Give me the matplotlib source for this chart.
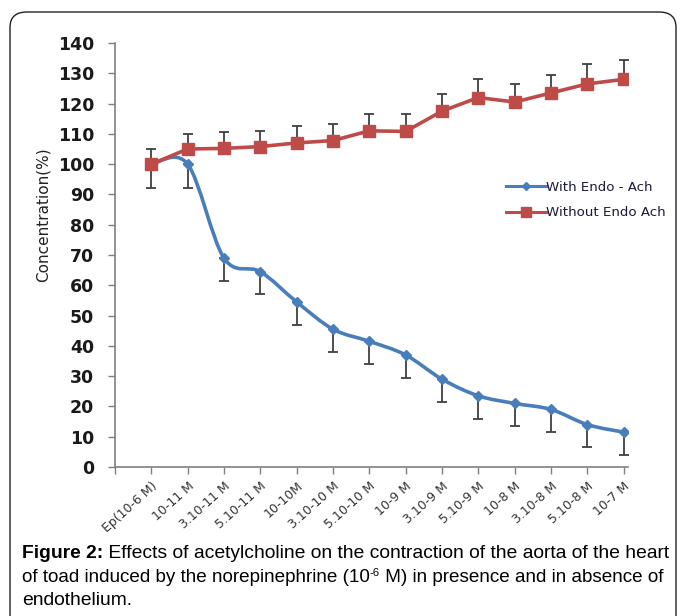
import matplotlib
matplotlib.use("Agg")
import matplotlib.pyplot as plt
from matplotlib.path import Path
from matplotlib.patches import PathPatch, FancyBboxPatch
from matplotlib.lines import Line2D

# data
labels = ["Ep(10-6 M)", "10-11 M", "3.10-11 M", "5.10-11 M", "10-10M", "3.10-10 M",
          "5.10-10 M", "10-9 M", "3.10-9 M", "5.10-9 M", "10-8 M", "3.10-8 M",
          "5.10-8 M", "10-7 M"]
with_endo = [100, 100, 69, 64.5, 54.5, 45.5, 41.5, 37, 29, 23.5, 21, 19, 14, 11.5]
with_endo_err = [8, 8, 7.5, 7.5, 7.5, 7.5, 7.5, 7.5, 7.5, 7.5, 7.5, 7.5, 7.5, 7.5]
without_endo = [100, 105, 105.2, 105.8, 107, 107.8, 111, 110.8, 117.5, 122, 120.5, 123.5, 126.5, 128]
without_endo_err = [5, 5, 5.3, 5.2, 5.5, 5.4, 5.5, 5.7, 5.5, 6, 6, 6, 6.5, 6.5]

blue = "#4a7ebb"
red = "#be4b48"
errc = "#404040"

fig = plt.figure(figsize=(6.81, 6.16), dpi=100)

# rounded frame around the figure panel
frame = FancyBboxPatch((10 / 681, -0.1), 666 / 681, (616 - 12) / 616 + 0.1,
                       boxstyle="round,pad=0,rounding_size=0.025",
                       transform=fig.transFigure, fill=False,
                       edgecolor="#222222", linewidth=1.0)
fig.patches.append(frame)

ax = fig.add_axes([115 / 681, 149 / 616, 513 / 681, 424 / 616])
x = list(range(len(labels)))


def smooth_path(xs, ys):
    # cubic bezier through the points (catmull-rom style, like Excel's smoothed line)
    n = len(xs)
    verts = [(xs[0], ys[0])]
    codes = [Path.MOVETO]
    for i in range(n - 1):
        i0 = max(i - 1, 0)
        i3 = min(i + 2, n - 1)
        c1 = (xs[i] + (xs[i + 1] - xs[i0]) / 6, ys[i] + (ys[i + 1] - ys[i0]) / 6)
        c2 = (xs[i + 1] - (xs[i3] - xs[i]) / 6, ys[i + 1] - (ys[i3] - ys[i]) / 6)
        verts += [c1, c2, (xs[i + 1], ys[i + 1])]
        codes += [Path.CURVE4] * 3
    return Path(verts, codes)


# error bars (one-sided)
ax.errorbar(x, with_endo, yerr=[with_endo_err, [0] * len(x)], fmt="none",
            ecolor=errc, elinewidth=1.3, capsize=3.5, capthick=1.3, zorder=2)
ax.errorbar(x, without_endo, yerr=[[0] * len(x), without_endo_err], fmt="none",
            ecolor=errc, elinewidth=1.3, capsize=3.5, capthick=1.3, zorder=2)

ax.add_patch(PathPatch(smooth_path(x, with_endo), fill=False, edgecolor=blue,
                       linewidth=2.6, zorder=3))
ax.plot(x, with_endo, linestyle="none", marker="D", markersize=5.5, color=blue, zorder=4)
ax.plot(x, without_endo, color=red, linewidth=2.6, marker="s", markersize=8.5, zorder=4)

ax.set_xlim(-1, 13.12)
ax.set_ylim(0, 140)
ax.set_yticks(range(0, 141, 10))
ax.set_xticks(range(-1, 14))
ax.set_xticklabels([""] + labels, rotation=42, ha="right", va="top",
                   rotation_mode="anchor", fontsize=9, color="#333333")
for lab in ax.get_yticklabels():
    lab.set_fontweight("bold")
    lab.set_fontsize(12.5)
    lab.set_color("#1a1a1a")
ax.tick_params(axis="x", length=5, width=1, color="#808080", pad=4)
ax.tick_params(axis="y", length=5, width=1, color="#808080", pad=10)
for s in ["top", "right"]:
    ax.spines[s].set_visible(False)
for s in ["left", "bottom"]:
    ax.spines[s].set_color("#808080")
    ax.spines[s].set_linewidth(1.2)
ax.set_ylabel("Concentration(%)", fontsize=11, color="#222222")
ax.yaxis.set_label_coords(-0.125, 0.594)

handles = [Line2D([], [], color=blue, linewidth=2.2, marker="D", markersize=4.5),
           Line2D([], [], color=red, linewidth=2.2, marker="s", markersize=7)]
fig.legend(handles, ["With Endo - Ach", "Without Endo Ach"], loc="center left",
           bbox_to_anchor=(499 / 681, 416 / 616), frameon=False, fontsize=9.6,
           handlelength=3.0, handletextpad=0.05, labelspacing=0.95, borderpad=0,
           labelcolor="#1a1a3a")

# caption
cap_font = "Liberation Sans"
cap_size = 13.9
t = fig.text(22 / 681, 1 - 558 / 616, "Figure 2:", fontsize=cap_size, fontweight="bold",
             family=cap_font, va="baseline", ha="left")
ax.annotate(" Effects of acetylcholine on the contraction of the aorta of the heart",
            xy=(1, 0), xycoords=t, va="bottom", ha="left", fontsize=cap_size,
            family=cap_font, annotation_clip=False)
size2 = 13.6
t2 = fig.text(22 / 681, 1 - 582 / 616, "of toad induced by the norepinephrine (10",
              fontsize=size2, family=cap_font, va="baseline", ha="left")
t3 = ax.annotate("-6", xy=(1, 0.6), xycoords=t2, va="baseline", ha="left",
                 fontsize=size2 * 0.6, family=cap_font, annotation_clip=False)
ax.annotate(" M) in presence and in absence of", xy=(1, 0), xycoords=(t3, t2),
            va="bottom", ha="left", fontsize=size2, family=cap_font,
            annotation_clip=False)
fig.text(22 / 681, 1 - 605 / 616, "endothelium.", fontsize=cap_size, family=cap_font,
         va="baseline", ha="left")

fig.savefig("out.png", dpi=100)
